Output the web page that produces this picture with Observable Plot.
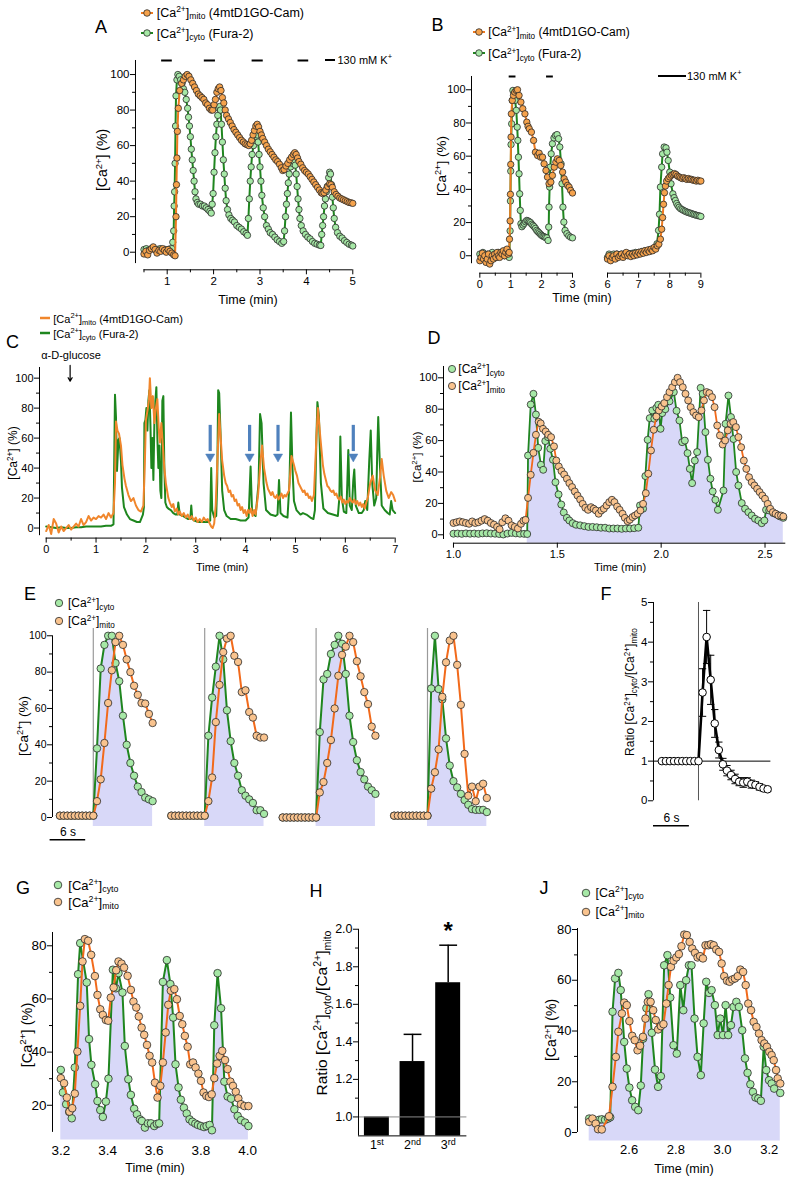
<!DOCTYPE html>
<html>
<head>
<meta charset="utf-8">
<script src="https://cdn.jsdelivr.net/npm/d3@7"></script>
<script src="https://cdn.jsdelivr.net/npm/@observablehq/plot@0.6"></script>
<style>
html,body{margin:0;padding:0;background:#fff;}
#fig{position:relative;width:793px;height:1182px;overflow:hidden;font-family:"Liberation Sans",Arial,Helvetica,sans-serif;color:#000;}
.t{position:absolute;white-space:nowrap;line-height:1;}
.t sup,.t sub{font-size:0.68em;line-height:0;}
.t sup{vertical-align:0.55em;}
.t sub{vertical-align:-0.32em;}
</style>
</head>
<body>
<div id="fig"></div>
<script>
// ================= DATA =================
// Panel A: [time (min), % ]
const aCyto = [[0.5,1.5],[0.55,2],[0.6,1.2],[0.65,1.8],[0.7,2.2],[0.75,1.2],[0.8,1.6],[0.85,2],[0.9,1.2],[0.95,1.6],[1,1.4],[1.05,1.8],[1.1,2],[1.12,5.6],[1.14,12],[1.15,26],[1.16,34],[1.17,50],[1.18,71],[1.19,88],[1.21,97],[1.23,100],[1.26,99],[1.29,97],[1.32,95],[1.35,92],[1.38,90],[1.41,86],[1.44,81],[1.46,76],[1.48,71],[1.5,65],[1.52,58],[1.54,52],[1.56,46],[1.58,40],[1.6,34],[1.62,30],[1.65,28],[1.68,27],[1.72,27],[1.76,26],[1.8,26],[1.84,25],[1.88,24],[1.92,23],[1.95,22],[1.97,27],[1.99,33],[2.01,45],[2.03,56],[2.05,65],[2.07,72],[2.09,77],[2.11,81],[2.13,82],[2.15,80],[2.17,72],[2.19,62],[2.21,52],[2.23,44],[2.25,36],[2.27,29],[2.3,24],[2.33,21],[2.37,19],[2.41,18],[2.45,17],[2.5,15],[2.55,14],[2.6,13],[2.65,11.5],[2.7,10.5],[2.73,9.5],[2.75,19],[2.77,30],[2.79,40],[2.81,48],[2.83,55],[2.86,60],[2.89,63],[2.92,65],[2.94,66],[2.96,62],[2.98,55],[3,48],[3.02,40],[3.04,32],[3.07,25],[3.1,20],[3.14,15],[3.18,13],[3.22,11],[3.27,10],[3.32,8.5],[3.37,7],[3.42,6],[3.47,5],[3.51,6],[3.53,12],[3.55,20],[3.57,27],[3.59,33],[3.61,39],[3.63,44],[3.66,48],[3.7,50],[3.73,51],[3.76,49],[3.78,44],[3.8,37],[3.82,30],[3.84,24],[3.86,19],[3.89,15],[3.93,12],[3.98,10],[4.03,8.5],[4.08,7.5],[4.13,6],[4.18,5],[4.23,4.5],[4.28,4],[4.31,3.8],[4.33,10],[4.35,15],[4.37,20],[4.39,26],[4.41,30],[4.43,34],[4.45,37],[4.48,42],[4.5,45],[4.52,44],[4.54,38],[4.56,31],[4.58,25],[4.6,19],[4.63,14],[4.67,11],[4.72,9],[4.77,8],[4.82,6.5],[4.87,5.5],[4.92,4.5],[4.97,4],[5,3.5]];
const aMito = [[0.5,-1],[0.54,0.5],[0.58,-1.5],[0.62,1],[0.66,2],[0.7,3],[0.74,1.5],[0.78,-0.5],[0.82,1],[0.86,0.5],[0.9,2],[0.94,1],[0.98,0],[1.02,1.5],[1.06,0.5],[1.1,-0.5],[1.14,-1.5],[1.17,-2],[1.19,20],[1.2,38],[1.21,53],[1.22,68],[1.24,81],[1.27,91],[1.31,95],[1.35,97],[1.39,99],[1.43,100],[1.47,99],[1.51,97],[1.55,95],[1.59,93],[1.63,91],[1.67,89],[1.71,88],[1.75,87],[1.79,86],[1.83,84],[1.87,83],[1.91,81],[1.95,80],[1.98,80],[2.01,83],[2.04,86],[2.07,90],[2.1,92],[2.13,93],[2.16,91],[2.19,87],[2.22,84],[2.25,80],[2.28,77],[2.32,75],[2.36,73],[2.4,71],[2.44,69],[2.48,67.5],[2.52,66],[2.56,64.5],[2.6,63],[2.64,62],[2.68,61],[2.72,60.5],[2.76,60],[2.79,61],[2.82,63],[2.85,66],[2.88,68.5],[2.91,71],[2.94,72],[2.97,70.5],[3,68],[3.03,66],[3.06,64],[3.1,62],[3.14,60],[3.18,58],[3.22,56.5],[3.26,55],[3.3,53.5],[3.34,52],[3.38,51],[3.42,49.5],[3.46,47.5],[3.49,46],[3.52,46.5],[3.56,48.5],[3.6,50],[3.64,52],[3.68,53.5],[3.72,55],[3.75,56],[3.78,55],[3.81,53],[3.84,51],[3.88,49.5],[3.92,47.5],[3.96,46],[4,45],[4.04,44],[4.08,42.5],[4.12,41],[4.16,39.5],[4.2,38],[4.24,36.5],[4.28,35],[4.32,33.5],[4.35,33],[4.38,33.5],[4.42,35],[4.46,37],[4.5,38.5],[4.53,38],[4.56,36.5],[4.6,34],[4.64,32.5],[4.68,31.5],[4.72,30.5],[4.76,30],[4.8,29.5],[4.84,29],[4.88,28.5],[4.92,28],[4.96,27.8],[5,27.5]];
const aK = [[0.88,1.11],[1.8,2.04],[2.83,3.07],[3.82,4.05]];
const aXTicks = [1,2,3,4,5], aXMinor = [0.5,1.5,2.5,3.5,4.5];
const pctTicks = [0,20,40,60,80,100], pctMinor = [10,30,50,70,90];

// Panel B
const bCytoL = [[0,1],[0.05,-1],[0.1,2],[0.15,0],[0.2,-2],[0.25,1],[0.3,-1],[0.35,0],[0.4,2],[0.45,0],[0.5,1],[0.55,-1],[0.6,2],[0.65,0],[0.7,1],[0.75,2],[0.8,0],[0.85,2],[0.9,1],[0.95,-1],[0.98,15],[0.99,33],[1,51],[1.01,67],[1.03,79.5],[1.05,93.6],[1.07,99.6],[1.11,97.6],[1.14,93.6],[1.18,87.6],[1.21,77.5],[1.23,69.5],[1.25,59.4],[1.27,49.4],[1.29,37.3],[1.31,27.3],[1.33,19.3],[1.36,17.5],[1.4,18.5],[1.44,19.5],[1.48,20.5],[1.52,21.3],[1.56,21],[1.6,20.5],[1.64,20],[1.68,19],[1.72,18.3],[1.76,17.5],[1.8,16.5],[1.84,15.3],[1.88,14.5],[1.92,13.8],[1.96,13],[2,12.3],[2.04,11.8],[2.08,11.5],[2.12,11],[2.17,10.8],[2.21,9.2],[2.23,17.3],[2.24,29.3],[2.26,41.4],[2.28,53.4],[2.31,61.4],[2.35,67.5],[2.4,71],[2.45,72.5],[2.5,73],[2.55,70.5],[2.59,65.5],[2.63,55.4],[2.66,43.4],[2.69,29.3],[2.72,20.3],[2.76,15.3],[2.82,13.3],[2.88,12],[2.94,11.2],[3,10.8]];
const bMitoL = [[0,-3],[0.04,-1],[0.08,1.5],[0.12,-2],[0.16,0],[0.2,-4],[0.24,-2],[0.28,1],[0.32,-5],[0.36,-3],[0.4,0],[0.44,-2],[0.48,1],[0.52,-1],[0.56,2],[0.6,0],[0.64,-1],[0.68,2],[0.72,1],[0.76,3],[0.8,0],[0.84,2],[0.88,4],[0.92,1],[0.95,2],[0.96,10],[0.98,21],[0.99,37],[1,55],[1.01,71.5],[1.02,85.5],[1.05,93.6],[1.09,96.6],[1.13,98.6],[1.18,99.6],[1.22,100],[1.27,96.6],[1.33,92.6],[1.39,88.6],[1.46,85.5],[1.52,80.5],[1.56,78],[1.6,76.5],[1.67,74.5],[1.74,69.5],[1.8,62.4],[1.87,60.4],[1.92,61.8],[1.97,59.4],[2.03,59.4],[2.08,55.4],[2.14,51.4],[2.19,47.4],[2.24,43.4],[2.3,44.4],[2.35,48.4],[2.41,53.4],[2.46,56.4],[2.51,58.4],[2.57,57.4],[2.62,54.4],[2.68,50.4],[2.73,46.4],[2.78,44.4],[2.84,42.4],[2.89,41.4],[2.94,39.4],[3,37.8]];
const bCytoR = [[6,-1],[6.05,1],[6.1,0],[6.15,-1],[6.2,1],[6.25,0],[6.3,1],[6.35,-0.5],[6.4,0.5],[6.45,1],[6.5,0],[6.55,1],[6.6,0.5],[6.65,1.5],[6.7,0.5],[6.75,1],[6.8,1.5],[6.85,1],[6.9,2],[6.95,1],[7,2],[7.05,1.5],[7.1,2.5],[7.15,2],[7.2,3],[7.25,2.5],[7.3,3],[7.35,3.5],[7.4,3],[7.45,4],[7.5,4.5],[7.55,5],[7.59,7.2],[7.64,15.3],[7.67,25],[7.7,41.4],[7.74,53.4],[7.77,61.4],[7.82,65.5],[7.88,65],[7.91,62.4],[7.95,57.4],[8,50.4],[8.04,43.4],[8.1,37.3],[8.14,35],[8.18,33.3],[8.22,31.5],[8.26,30.2],[8.3,29.2],[8.35,28.3],[8.4,27.8],[8.45,27.2],[8.5,26.8],[8.55,26.3],[8.6,26],[8.65,25.7],[8.7,25.4],[8.75,25],[8.8,24.8],[8.85,24.4],[8.9,24.2],[8.95,24],[9,23.7]];
const bMitoR = [[6,-2],[6.05,0],[6.1,-3],[6.15,-1],[6.2,0],[6.25,-2],[6.3,1],[6.35,-1],[6.4,0],[6.45,1],[6.5,-1],[6.55,0.5],[6.6,2],[6.65,0],[6.7,1],[6.75,-0.5],[6.8,1],[6.85,0],[6.9,1.5],[6.95,0.5],[7,2],[7.05,1],[7.1,2.5],[7.15,1.5],[7.2,3],[7.25,2],[7.3,3.5],[7.35,2.5],[7.4,4],[7.45,3],[7.5,5],[7.55,4],[7.6,6],[7.65,7],[7.7,10],[7.74,16],[7.77,23],[7.8,31],[7.83,38],[7.86,42],[7.9,45],[7.95,46.5],[8,47.5],[8.05,48.5],[8.1,49],[8.15,49.5],[8.2,49],[8.25,48],[8.3,47.5],[8.35,47],[8.4,46.5],[8.45,47],[8.5,46.5],[8.55,46],[8.6,46.5],[8.65,46],[8.7,46],[8.75,45.5],[8.8,45.5],[8.85,45],[8.9,45.5],[8.95,45],[9,45]];
const bK = [[0.95,1.17],[2.16,2.38]];
const bXTicksL = [0,1,2,3], bXMinorL = [0.5,1.5,2.5];
const bXTicksR = [6,7,8,9], bXMinorR = [6.5,7.5,8.5];

// Panel C
const cCyto = [[0,1],[0.1,0.5],[0.2,0],[0.3,0.5],[0.4,0],[0.5,0],[0.6,0.5],[0.7,0.5],[0.8,1],[0.9,1],[1,1],[1.1,1],[1.2,1.5],[1.3,1.5],[1.35,2.5],[1.38,89],[1.4,74],[1.42,38],[1.45,59],[1.47,60],[1.5,45],[1.52,27],[1.56,14],[1.62,9],[1.68,6],[1.75,5],[1.82,4],[1.88,4],[1.94,9],[1.96,14],[1.97,70],[1.99,72],[2.01,80],[2.03,65],[2.05,85],[2.07,92],[2.09,70],[2.11,40],[2.13,60],[2.15,32],[2.17,70],[2.19,85],[2.21,94],[2.23,60],[2.25,40],[2.27,55],[2.29,25],[2.31,20],[2.33,85],[2.35,88],[2.37,40],[2.39,17],[2.42,14],[2.45,13],[2.5,12],[2.55,10],[2.6,9],[2.63,9],[2.65,17],[2.68,9],[2.75,8],[2.8,7],[2.85,6],[2.89,6],[2.91,15],[2.93,6],[2.97,5],[3.05,4],[3.15,4],[3.25,4],[3.29,5],[3.31,40],[3.33,12],[3.37,7],[3.41,8],[3.43,30],[3.45,92],[3.47,90],[3.5,60],[3.53,25],[3.57,12],[3.62,8],[3.7,6],[3.8,6],[3.9,5],[4,5],[4.06,7],[4.1,41],[4.13,10],[4.2,8],[4.26,30],[4.29,76],[4.32,70],[4.36,30],[4.41,12],[4.5,9],[4.6,8],[4.64,9],[4.67,32],[4.7,10],[4.76,8],[4.84,7],[4.88,30],[4.91,77],[4.94,40],[4.97,18],[5.02,12],[5.1,9],[5.15,10],[5.22,9],[5.3,7],[5.36,6],[5.39,12],[5.42,60],[5.44,84],[5.47,75],[5.51,30],[5.56,13],[5.65,10],[5.75,9],[5.85,8],[5.88,20],[5.9,61],[5.93,20],[5.97,11],[6.02,10],[6.04,30],[6.06,52],[6.09,15],[6.13,12],[6.16,32],[6.18,39],[6.21,15],[6.27,10],[6.33,10],[6.37,12],[6.4,18],[6.44,12],[6.48,45],[6.51,65],[6.54,30],[6.58,15],[6.62,20],[6.64,50],[6.66,74],[6.69,45],[6.73,15],[6.79,12],[6.85,10],[6.89,9],[6.92,18],[6.95,12],[7,10]];
const cMito = [[0,-2],[0.05,2],[0.1,-4],[0.15,6],[0.2,3],[0.25,-3],[0.3,1],[0.35,-2],[0.4,0],[0.45,2],[0.5,-1],[0.55,1],[0.6,3],[0.65,1],[0.7,6],[0.75,2],[0.8,4],[0.85,8],[0.9,5],[0.95,7],[1,6],[1.05,8],[1.1,7],[1.15,9],[1.2,6],[1.25,10],[1.3,7],[1.35,10],[1.38,30],[1.4,71],[1.43,65],[1.46,63],[1.5,55],[1.53,42],[1.57,33],[1.6,28],[1.65,22],[1.7,18],[1.75,20],[1.8,15],[1.85,12],[1.9,11],[1.95,15],[1.98,45],[2,72],[2.03,78],[2.06,85],[2.08,100],[2.11,80],[2.14,88],[2.17,70],[2.2,80],[2.23,86],[2.26,65],[2.28,57],[2.31,70],[2.34,55],[2.37,40],[2.4,30],[2.45,20],[2.48,17],[2.52,14],[2.55,16],[2.58,11],[2.62,13],[2.65,9],[2.68,11],[2.72,8],[2.76,10],[2.8,7],[2.84,9],[2.88,6],[2.92,8],[2.96,5],[3,7],[3.04,4],[3.08,6],[3.12,4],[3.16,7],[3.2,5],[3.24,6],[3.28,3],[3.31,1],[3.34,0],[3.37,3],[3.4,15],[3.44,50],[3.47,76],[3.5,60],[3.53,45],[3.57,35],[3.6,30],[3.63,28],[3.66,24],[3.69,25],[3.72,21],[3.75,22],[3.78,18],[3.81,19],[3.84,15],[3.87,16],[3.9,12],[3.93,14],[3.96,10],[3.99,12],[4.02,8],[4.05,12],[4.08,10],[4.11,13],[4.14,8],[4.17,12],[4.2,9],[4.25,22],[4.3,45],[4.33,55],[4.37,40],[4.42,30],[4.45,26],[4.48,24],[4.51,22],[4.54,24],[4.57,21],[4.6,20],[4.63,22],[4.66,19],[4.69,21],[4.72,23],[4.75,20],[4.78,22],[4.81,21],[4.84,23],[4.87,25],[4.92,48],[4.97,42],[5,38],[5.03,35],[5.06,30],[5.09,28],[5.12,26],[5.15,24],[5.18,25],[5.21,22],[5.24,23],[5.27,20],[5.3,21],[5.33,18],[5.37,22],[5.42,60],[5.45,80],[5.5,60],[5.55,42],[5.58,36],[5.61,32],[5.64,28],[5.67,27],[5.7,25],[5.73,24],[5.76,25],[5.79,22],[5.82,23],[5.85,20],[5.88,19],[5.91,21],[5.94,17],[5.97,19],[6,16],[6.03,18],[6.06,17],[6.09,20],[6.12,18],[6.15,17],[6.18,19],[6.21,16],[6.24,18],[6.27,15],[6.3,17],[6.33,14],[6.36,16],[6.39,13],[6.42,17],[6.45,20],[6.5,30],[6.55,35],[6.6,25],[6.65,22],[6.7,35],[6.73,46],[6.77,35],[6.82,25],[6.87,20],[6.92,24],[6.96,22],[7,18]];
const cArrowT = [3.29, 4.08, 4.65, 6.16];   // blue arrows (min)
const cGlucoseT = 0.48;                      // α-D-glucose addition (min)
const cXTicks = [0,1,2,3,4,5,6,7], cXMinor = [0.5,1.5,2.5,3.5,4.5,5.5,6.5];

// Panel D
const dCyto = [[1,0.7],[1.02,0.8],[1.04,0.6],[1.06,0.9],[1.08,0.7],[1.1,0.8],[1.12,0.6],[1.14,0.9],[1.16,1],[1.18,0.8],[1.2,0.7],[1.22,0.5],[1.24,0.2],[1.26,0.8],[1.28,1.2],[1.3,0.9],[1.32,0.7],[1.34,0.6],[1.355,0.5],[1.359,50.5],[1.372,83],[1.385,89.8],[1.397,76.6],[1.408,55.4],[1.421,44.6],[1.432,41.4],[1.442,59.7],[1.455,62.2],[1.466,54.8],[1.479,47.8],[1.491,33.5],[1.506,25.7],[1.519,19.3],[1.531,14.2],[1.546,10.8],[1.558,9.1],[1.574,7.4],[1.59,6.4],[1.61,6],[1.63,5.5],[1.65,5],[1.67,5],[1.69,4.8],[1.71,4.5],[1.73,4.5],[1.75,4],[1.77,4],[1.79,4],[1.81,3.8],[1.83,4],[1.85,4],[1.87,4.2],[1.89,4.5],[1.898,18.7],[1.913,16.6],[1.924,37.4],[1.935,60.5],[1.945,74.3],[1.957,79.2],[1.967,73.9],[1.977,80.9],[1.986,82.8],[1.997,67.5],[2.005,77.5],[2.02,80],[2.04,85],[2.061,90.9],[2.074,79],[2.088,72.8],[2.101,59],[2.114,60],[2.127,52],[2.138,42],[2.149,32.9],[2.162,47.3],[2.173,52.7],[2.19,93.6],[2.2,89.8],[2.213,65.4],[2.225,47.8],[2.237,35.7],[2.248,27.6],[2.261,22.3],[2.273,15.9],[2.3,28.2],[2.31,70.7],[2.324,88.7],[2.336,75],[2.348,61],[2.361,40],[2.372,31.4],[2.388,20.2],[2.404,16.6],[2.42,14.4],[2.436,12.3],[2.452,10.2],[2.468,9.1],[2.484,7.4],[2.497,9.1],[2.505,15.9],[2.52,15.5],[2.54,13.8],[2.556,13],[2.572,11.7],[2.588,10.8]];
const dMito = [[1,7.5],[1.015,8],[1.03,8.5],[1.045,8],[1.06,7.5],[1.075,7],[1.09,8.5],[1.105,7.5],[1.12,8],[1.135,9],[1.15,10],[1.165,9],[1.18,7.5],[1.195,6.5],[1.21,5],[1.222,3.5],[1.235,8],[1.25,10.5],[1.265,9],[1.28,6],[1.295,5],[1.31,4],[1.325,7],[1.337,9],[1.347,9.5],[1.359,23.5],[1.372,38.2],[1.385,52.2],[1.397,63.7],[1.41,72],[1.42,71],[1.431,67.5],[1.444,65.8],[1.456,63.7],[1.47,62.2],[1.484,56.3],[1.495,47.3],[1.507,43.5],[1.52,40.6],[1.533,38.4],[1.546,35.7],[1.558,32.9],[1.571,30.4],[1.584,27.6],[1.597,25],[1.61,22.5],[1.622,19.7],[1.635,17.2],[1.648,15.9],[1.662,17.6],[1.675,16.6],[1.686,15.5],[1.699,13.4],[1.712,15.5],[1.724,16.6],[1.737,18.7],[1.75,20.8],[1.763,22.3],[1.775,20.8],[1.788,18],[1.8,15.9],[1.814,13.4],[1.825,10.8],[1.838,8.7],[1.849,9.6],[1.862,11.3],[1.874,12.3],[1.887,13.4],[1.9,15.5],[1.913,19.7],[1.926,26.5],[1.938,38.9],[1.951,53.7],[1.964,66.9],[1.977,75.4],[1.989,79.2],[2.002,81.7],[2.015,83.9],[2.028,87.7],[2.04,90.9],[2.053,94],[2.066,97.2],[2.079,100],[2.091,97.2],[2.104,94],[2.117,89.8],[2.13,85.6],[2.142,81.3],[2.155,78.1],[2.168,76],[2.181,74.9],[2.194,79.2],[2.206,85.6],[2.219,90.9],[2.232,90.2],[2.245,87.7],[2.257,81.3],[2.27,69.6],[2.283,63.3],[2.296,57.5],[2.308,60.1],[2.321,66.5],[2.334,70.7],[2.347,71.8],[2.36,68.6],[2.372,62.2],[2.385,55.8],[2.398,47.3],[2.41,42],[2.423,36.7],[2.436,33.5],[2.449,31.4],[2.462,29.3],[2.474,27.2],[2.487,25],[2.5,22.9],[2.513,19.7],[2.525,16.6],[2.538,14.4],[2.551,13.4],[2.564,12.3],[2.577,12.3],[2.588,11.7]];
const dFillFrom = 1.355;
const dXTicks = [1,1.5,2,2.5];

// Panel E: four events, samples -9..16 around onset
const ePre = 9;
const eCyto1 = [1,1,1,1,1,1,1,1,1,1,38,82,95,100,100,85,75,56,40,30,23,17,14,11,10,9];
const eMito1 = [1,1,1,1,1,1,1,1,1,1,9,21,41,63,81,96.5,100,95,87,80,72.5,67.5,63,62.7,57,52];
const eCyto2 = [1,1,1,1,1,1,1,1,1,1,45,66,83,100,87,59,42,30,23,15,12,10,8,4,4,2];
const eMito2 = [1,1,1,1,1,1,1,1,1,1,9,22,52.5,73,91,98.5,100,89,85.6,69,70,58,55,45,44,44];
const eCyto3 = [0,0,0,0,0,0,0,0,0,0,47,76,79,90,95,100,95.6,79,56,41.5,31.5,25,21,17,15,13];
const eMito3 = [0,0,0,0,0,0,0,0,0,0,13.8,19.5,30,42.6,60,78,89.5,94,100,96.5,86,77.7,69,62.4,50,45];
const eCyto4 = [1,1,1,1,1,1,1,1,1,1,71,100,70.7,65,43.5,28.6,20,16.6,13,9.6,7,4.6,4.2,4.2,4.2,3];
const eMito4 = [1,1,1,1,1,1,1,1,1,1,15.9,24.9,37.5,66.4,85.4,97.4,100,84,62,35,12,17,8.9,17,18.6,10.7];
const eEvents = [1,2,3,4];
const eDt = 0.625;   // s per sample

// Panel F: mean ratio and SEM, samples -9..17
const fPre = 9;
const fRatio = [1,1,1,1,1,1,1,1,1,1,2.73,4.13,3.05,1.95,1.28,0.92,0.76,0.65,0.55,0.48,0.46,0.48,0.42,0.4,0.35,0.31,0.29];
const fSem = [0,0,0,0,0,0,0,0,0,0,0.6,0.67,0.62,0.35,0.2,0.15,0.13,0.12,0.12,0.1,0.12,0.1,0.1,0.08,0.08,0.06,0.05];
const fDt = 0.68;
const fYTicks = [0,1,2,3,4,5], fYMinor = [0.5,1.5,2.5,3.5,4.5];

// Panel G
const gCyto = [[3.2,33.3],[3.209,24.8],[3.223,20.4],[3.236,17.5],[3.247,15.1],[3.26,34.2],[3.274,69.3],[3.283,81],[3.311,66.2],[3.321,44.9],[3.331,35.2],[3.347,27.9],[3.357,21.6],[3.369,18.2],[3.38,15.6],[3.393,21.4],[3.404,30],[3.423,71],[3.436,64],[3.447,69.7],[3.464,62.4],[3.474,42.3],[3.489,29.8],[3.5,23.9],[3.514,18.7],[3.526,16.6],[3.539,14.7],[3.547,14.1],[3.56,11.6],[3.573,13.2],[3.586,13.2],[3.6,12.2],[3.611,13],[3.621,13.2],[3.637,66.4],[3.654,74.6],[3.669,65.6],[3.681,53],[3.691,35.4],[3.704,26.7],[3.714,22.1],[3.727,19.1],[3.739,16.9],[3.751,14.7],[3.763,13.8],[3.776,13.1],[3.787,12.6],[3.8,12.2],[3.813,11.8],[3.824,12.2],[3.837,12.6],[3.847,10.6],[3.857,50.1],[3.871,69.7],[3.886,56.5],[3.9,28.9],[3.914,23.3],[3.929,22.5],[3.943,18.5],[3.957,16],[3.971,14.4],[3.989,13.5],[4.003,12.2]];
const gMito = [[3.2,30.2],[3.214,28.3],[3.226,22.9],[3.237,17.6],[3.249,18.9],[3.26,24.4],[3.271,40.2],[3.283,57.4],[3.293,74.1],[3.303,82.5],[3.317,81.9],[3.33,76.6],[3.346,68.6],[3.357,61.5],[3.369,56.1],[3.38,54],[3.393,52.1],[3.403,51.8],[3.414,60.5],[3.426,64.3],[3.437,70.8],[3.447,74.1],[3.46,73.3],[3.471,71.8],[3.486,68.7],[3.5,63.4],[3.511,59],[3.523,56.8],[3.534,53.4],[3.546,49.2],[3.557,46.5],[3.569,42.7],[3.58,38.6],[3.591,36.1],[3.603,28.5],[3.614,22.9],[3.626,27.3],[3.637,36.1],[3.649,47.4],[3.66,57.8],[3.671,63.1],[3.686,63.7],[3.697,59.9],[3.709,53.6],[3.72,50.5],[3.731,46.1],[3.743,42],[3.754,35.4],[3.766,36.1],[3.777,34.2],[3.789,31.9],[3.8,29.2],[3.811,24.8],[3.823,23.5],[3.834,23.1],[3.846,24.1],[3.857,30.2],[3.869,35.7],[3.88,38.6],[3.891,40.5],[3.903,37],[3.914,33.6],[3.926,28.9],[3.937,27.3],[3.949,25.1],[3.96,22.6],[3.971,20.4],[3.986,19.7],[4.003,19.7]];
const gXTicks = [3.2,3.4,3.6,3.8,4.0], gYTicks = [20,40,60,80], gYMinor = [30,50,70];

// Panel H
const hLabels = ["1st","2nd","3rd"];
const hMean = [1.0, 1.295, 1.715];
const hSem = [0, 0.145, 0.2];
const hSig = ["", "", "*"];
const hYTicks = [1.0,1.2,1.4,1.6,1.8,2.0], hYMinor = [1.1,1.3,1.5,1.7,1.9];

// Panel J
const jCyto = [[2.429,5.5],[2.443,5],[2.457,4.5],[2.471,5],[2.483,5.2],[2.497,5],[2.51,5.5],[2.519,6],[2.529,47.6],[2.54,60.7],[2.554,62.9],[2.564,56.1],[2.579,35.7],[2.59,25.2],[2.601,17.7],[2.613,12.7],[2.626,10.1],[2.639,8.8],[2.65,18.5],[2.66,37],[2.674,49],[2.683,54.5],[2.697,39.3],[2.711,24.8],[2.724,18],[2.736,22.2],[2.75,65.9],[2.764,69.9],[2.776,53.2],[2.79,34.4],[2.804,31.1],[2.819,58.1],[2.832,48.2],[2.844,60],[2.856,65.9],[2.867,65.9],[2.88,44.9],[2.893,29.8],[2.907,22.6],[2.919,43],[2.93,59.4],[2.942,55],[2.953,56.1],[2.967,50.2],[2.979,38.4],[2.99,44.9],[3.002,38.4],[3.013,50.2],[3.024,38.4],[3.036,42.3],[3.047,49.5],[3.059,51.5],[3.07,49.5],[3.084,40.3],[3.096,29.2],[3.107,23.5],[3.119,19],[3.13,16],[3.141,13.8],[3.153,13.4],[3.164,12.5],[3.176,33.8],[3.187,24.6],[3.199,20.6],[3.21,19.3],[3.221,17.3],[3.247,15.6]];
const jMito = [[2.429,4.2],[2.443,5.5],[2.457,3.5],[2.467,1.3],[2.483,1.2],[2.514,6.4],[2.529,18],[2.543,29.8],[2.554,39.7],[2.569,46.9],[2.579,51.2],[2.59,50.2],[2.601,43.9],[2.613,38.1],[2.624,36.4],[2.636,32.4],[2.647,34.2],[2.659,37.7],[2.67,44.9],[2.68,51.5],[2.692,51.5],[2.703,48.2],[2.714,44.3],[2.724,40.6],[2.736,41.9],[2.747,42.7],[2.759,50.8],[2.769,58.1],[2.779,65.3],[2.79,67.7],[2.802,69],[2.813,70.3],[2.824,73.4],[2.836,78],[2.847,77.8],[2.859,75.1],[2.87,72.5],[2.882,70.8],[2.893,69],[2.904,69.5],[2.916,68.6],[2.927,73.8],[2.939,73.8],[2.95,74.2],[2.962,73.8],[2.973,72.1],[2.985,71.2],[2.996,66.6],[3.007,61.6],[3.019,59.8],[3.03,59.4],[3.042,60.3],[3.053,60.7],[3.065,61.6],[3.076,64.2],[3.088,63.3],[3.099,58.1],[3.11,50.8],[3.122,48.2],[3.133,43.6],[3.145,41.6],[3.156,39],[3.167,36.4],[3.179,35.1],[3.19,33.8],[3.2,31.8],[3.21,30.5],[3.219,28.5],[3.229,24.6],[3.236,21.3],[3.247,19.3]];
const jXTicks = [2.6,2.8,3.0,3.2], jYTicks = [0,20,40,60,80], jYMinor = [10,30,50,70];

// ================= STYLE =================
const FONT = '"Liberation Sans", Arial, Helvetica, sans-serif';
const GREEN_LINE = "#1f861f", GREEN_FILL = "#a6e8a6";
const ORANGE_LINE = "#f26a1b", ORANGE_FILL = "#f9c38e";
const AB_ORANGE_FILL = "#f5a24c", AB_ORANGE_LINE = "#ee7a20";
const OUTLINE = "#2a2a2a";
const LAVENDER = "#d8d8f8";
const C_ORANGE = "#f0862c", C_GREEN = "#1e861e";
const ARROW_BLUE = "#4f81bd";
const fig = document.getElementById("fig");
const f1 = d3.format(".1f");
const fg = d3.format("~g");
const CA = "[Ca<sup>2+</sup>]";
const CYTO = CA + "<sub>cyto</sub>", MITO = CA + "<sub>mito</sub>";
const X = d => d[0], Y = d => d[1];

// ================= HELPERS =================
function txt(html, x, y, {size = 12, anchor = "start", rotate = false, weight = "normal"} = {}) {
  const d = document.createElement("div");
  d.className = "t"; d.innerHTML = html;
  d.style.fontSize = size + "px"; d.style.fontWeight = weight;
  d.style.left = x + "px"; d.style.top = y + "px";
  const tx = anchor === "middle" ? "-50%" : anchor === "end" ? "-100%" : "0";
  d.style.transform = rotate ? "translate(-50%,-50%) rotate(-90deg)" : `translate(${tx},-50%)`;
  fig.appendChild(d);
}
function swatch(x, y, {dot, line, r = 3.7, lw = 2, len = 12}) {
  const s = `<svg width="${len + 4}" height="12" style="position:absolute;left:${x - len / 2 - 2}px;top:${y - 6}px;overflow:visible">` +
    (line ? `<line x1="2" x2="${len + 2}" y1="6" y2="6" stroke="${line}" stroke-width="${lw}"/>` : "") +
    (dot ? `<circle cx="${len / 2 + 2}" cy="6" r="${r}" fill="${dot}" stroke="${OUTLINE}" stroke-width="0.8"/>` : "") + `</svg>`;
  fig.insertAdjacentHTML("beforeend", s);
}
function hbar(x1, x2, y) {
  const d = document.createElement("div");
  d.style.cssText = `position:absolute;left:${x1}px;top:${y - 1}px;width:${x2 - x1}px;height:2px;background:#000`;
  fig.appendChild(d);
}
function mount(opts, fr, pad, fs) {
  const svg = Plot.plot({
    ...opts,
    width: fr.r - fr.l + pad.l + pad.r,
    height: fr.b - fr.t + pad.t + pad.b,
    marginLeft: pad.l, marginRight: pad.r, marginTop: pad.t, marginBottom: pad.b,
    style: {fontFamily: FONT, fontSize: fs + "px", color: "#000", background: "transparent", overflow: "visible"}
  });
  svg.style.position = "absolute";
  svg.style.left = (fr.l - pad.l) + "px";
  svg.style.top = (fr.t - pad.t) + "px";
  fig.appendChild(svg);
  return svg;
}
function yAxis({major, minor = [], lo, hi, at, fmt = fg, pad = 2, line = true}) {
  const m = [];
  if (line) m.push(Plot.ruleX([at], {y1: lo, y2: hi, stroke: "#000", strokeWidth: 1}));
  m.push(Plot.axisY({ticks: major, tickSize: 5, tickPadding: pad, tickFormat: fmt, label: null}));
  if (minor.length) m.push(Plot.axisY({ticks: minor, tickSize: 3, tickFormat: () => "", label: null}));
  return m;
}
function xAxis({major, minor = [], lo, hi, at, fmt = fg, pad = 2, size = 5, line = true}) {
  const m = [];
  if (line) m.push(Plot.ruleY([at], {x1: lo, x2: hi, stroke: "#000", strokeWidth: 1}));
  m.push(Plot.axisX({ticks: major, tickSize: size, tickPadding: pad, tickFormat: fmt, label: null}));
  if (minor.length) m.push(Plot.axisX({ticks: minor, tickSize: 3, tickFormat: () => "", label: null}));
  return m;
}
function series(data, {line, fill, r = 3.6, lw = 2, x = X, y = Y, extra = {}}) {
  return [
    Plot.line(data, {x, y, stroke: line, strokeWidth: lw, ...extra}),
    Plot.dot(data, {x, y, r, fill, stroke: OUTLINE, strokeWidth: 0.8, ...extra})
  ];
}

// ================= PANEL A =================
{
  const xd = [0.317, 5], yd = [-9.9, 107.9];
  mount({
    x: {domain: xd}, y: {domain: yd},
    marks: [
      ...yAxis({major: pctTicks, minor: pctMinor, lo: -6.4, hi: yd[1], at: xd[0], pad: 1}),
      ...xAxis({major: aXTicks, minor: aXMinor, lo: 0.5, hi: 5, at: yd[0]}),
      Plot.ruleY(aK, {x1: X, x2: Y, y: yd[1], stroke: "#000", strokeWidth: 2}),
      ...series(aCyto, {line: GREEN_LINE, fill: GREEN_FILL, r: 3.2, lw: 2}),
      ...series(aMito, {line: AB_ORANGE_LINE, fill: AB_ORANGE_FILL, r: 3.2, lw: 2})
    ]
  }, {l: 135, r: 352.3, t: 60, b: 269.3}, {l: 40, r: 10, t: 10, b: 25}, 11.5);
  txt("A", 101, 27, {size: 18, anchor: "middle"});
  swatch(146.7, 12.7, {dot: AB_ORANGE_FILL, line: AB_ORANGE_LINE, r: 3.3});
  txt(MITO + " (4mtD1GO-Cam)", 156.7, 13, {size: 12.5});
  swatch(146.7, 33.3, {dot: GREEN_FILL, line: GREEN_LINE, r: 3.3});
  txt(CYTO + " (Fura-2)", 156.7, 33.5, {size: 12.5});
  hbar(325, 335, 60);
  txt("130 mM K<sup>+</sup>", 337.5, 60, {size: 11});
  txt(CA + " (%)", 101.7, 160, {size: 14, rotate: true});
  txt("Time (min)", 248, 300, {size: 12.5, anchor: "middle"});
}

// ================= PANEL B =================
{
  const yd = [-10.5, 108];
  const xdL = [-0.27, 3];
  mount({
    x: {domain: xdL}, y: {domain: yd},
    marks: [
      ...yAxis({major: pctTicks, minor: pctMinor, lo: -4.8, hi: yd[1], at: xdL[0], pad: 1}),
      ...xAxis({major: bXTicksL, minor: bXMinorL, lo: 0, hi: 3, at: yd[0]}),
      Plot.ruleY(bK, {x1: X, x2: Y, y: yd[1], stroke: "#000", strokeWidth: 2}),
      ...series(bCytoL, {line: GREEN_LINE, fill: GREEN_FILL, r: 3.2}),
      ...series(bMitoL, {line: AB_ORANGE_LINE, fill: AB_ORANGE_FILL, r: 3.2})
    ]
  }, {l: 470.7, r: 571.7, t: 76, b: 272.7}, {l: 31, r: 4, t: 10, b: 25}, 11);
  mount({
    x: {domain: [6, 9]}, y: {domain: yd, axis: null},
    marks: [
      ...xAxis({major: bXTicksR, minor: bXMinorR, lo: 6, hi: 9, at: yd[0]}),
      ...series(bCytoR, {line: GREEN_LINE, fill: GREEN_FILL, r: 3.2}),
      ...series(bMitoR, {line: AB_ORANGE_LINE, fill: AB_ORANGE_FILL, r: 3.2})
    ]
  }, {l: 607.3, r: 700.7, t: 76, b: 272.7}, {l: 6, r: 8, t: 10, b: 25}, 11);
  txt("B", 437.5, 25, {size: 18, anchor: "middle"});
  swatch(479.3, 31.7, {dot: AB_ORANGE_FILL, line: AB_ORANGE_LINE, r: 3.3});
  txt(MITO + " (4mtD1GO-Cam)", 488.3, 32, {size: 12});
  swatch(479.3, 53.3, {dot: GREEN_FILL, line: GREEN_LINE, r: 3.3});
  txt(CYTO + " (Fura-2)", 488.3, 53.5, {size: 12});
  hbar(658.3, 686, 76);
  txt("130 mM K<sup>+</sup>", 687, 76, {size: 11});
  txt(CA + " (%)", 441.7, 166, {size: 13.5, rotate: true});
  txt("Time (min)", 582, 298, {size: 12.5, anchor: "middle"});
}

// ================= PANEL C =================
{
  const xd = [-0.134, 7], yd = [-6.7, 107.1];
  mount({
    x: {domain: xd}, y: {domain: yd},
    marks: [
      ...yAxis({major: pctTicks, minor: pctMinor, lo: -5.1, hi: yd[1], at: xd[0], pad: 1}),
      ...xAxis({major: cXTicks, minor: cXMinor, lo: 0, hi: 7, at: yd[0]}),
      Plot.line(cCyto, {x: X, y: Y, stroke: C_GREEN, strokeWidth: 2}),
      Plot.line(cMito, {x: X, y: Y, stroke: C_ORANGE, strokeWidth: 2}),
      Plot.ruleX(cArrowT, {y1: 51, y2: 68.5, stroke: ARROW_BLUE, strokeWidth: 3.2}),
      Plot.dot(cArrowT, {x: d => d, y: 47.6, symbol: "triangle", rotate: 180, r: 3.4, fill: ARROW_BLUE, stroke: ARROW_BLUE, strokeWidth: 0.5}),
      Plot.arrow([cGlucoseT], {x1: d => d, x2: d => d, y1: 108.5, y2: 98, stroke: "#000", strokeWidth: 1.2, headLength: 5})
    ]
  }, {l: 39.3, r: 395, t: 366.7, b: 537.3}, {l: 30, r: 6, t: 10, b: 25}, 11);
  txt("C", 12.5, 342, {size: 18, anchor: "middle"});
  swatch(45, 318.3, {line: C_ORANGE, lw: 2.5, len: 10});
  txt(MITO + " (4mtD1GO-Cam)", 53.3, 318.5, {size: 11});
  swatch(45, 333.3, {line: C_GREEN, lw: 2.5, len: 10});
  txt(CYTO + " (Fura-2)", 53.3, 333.5, {size: 11});
  txt("α-D-glucose", 71, 355, {size: 11, anchor: "middle"});
  txt(CA + " (%)", 13.3, 453, {size: 12, rotate: true});
  txt("Time (min)", 222, 567, {size: 11, anchor: "middle"});
}

// ================= PANEL D =================
{
  const xd = [0.952, 2.6], yd = [-5.35, 107.2];
  mount({
    x: {domain: xd}, y: {domain: yd},
    marks: [
      Plot.areaY(dCyto.filter(d => d[0] >= dFillFrom), {x: X, y1: yd[0], y2: Y, fill: LAVENDER}),
      ...yAxis({major: pctTicks, minor: pctMinor, lo: -3, hi: yd[1], at: xd[0], pad: 1}),
      ...xAxis({major: dXTicks, lo: 1, hi: 2.6, at: yd[0], fmt: f1}),
      ...series(dCyto, {line: GREEN_LINE, fill: GREEN_FILL, r: 3.5, lw: 1.8}),
      ...series(dMito, {line: ORANGE_LINE, fill: ORANGE_FILL, r: 3.5, lw: 1.8})
    ]
  }, {l: 443.3, r: 785.6, t: 366, b: 542.7}, {l: 34, r: 6, t: 10, b: 25}, 11);
  txt("D", 434, 338, {size: 18, anchor: "middle"});
  swatch(451.7, 369, {dot: GREEN_FILL, r: 3.6});
  txt(CYTO, 458.3, 369, {size: 12});
  swatch(451.7, 385.5, {dot: ORANGE_FILL, r: 3.6});
  txt(MITO, 458.3, 385.5, {size: 12});
  txt(CA + " (%)", 418.3, 456.7, {size: 11.5, rotate: true});
  txt("Time (min)", 620, 566.7, {size: 11, anchor: "middle"});
}

// ================= PANEL E =================
{
  const cy = [eCyto1, eCyto2, eCyto3, eCyto4], mi = [eMito1, eMito2, eMito3, eMito4];
  const rows = [];
  cy.forEach((c, k) => c.forEach((v, j) => rows.push({ev: eEvents[k], i: j - ePre, c: v, m: mi[k][j]})));
  const xd = [-11, 17.5], yd = [-5, 104];
  const barY = -12.3, barX1 = -11.65, barX2 = barX1 + 6 / eDt;
  const first = [eEvents[0]];
  mount({
    x: {domain: xd, axis: null}, y: {domain: yd},
    fx: {domain: eEvents, paddingInner: 0.0513, paddingOuter: 0, axis: null, round: false},
    marks: [
      Plot.areaY(rows.filter(d => d.i >= 0), {fx: "ev", x: "i", y1: yd[0], y2: "c", fill: LAVENDER}),
      Plot.ruleX(eEvents, {fx: d => d, x: 0, y1: 0, y2: 104, stroke: "#9a9a9a", strokeWidth: 1.2}),
      Plot.ruleX(first, {fx: d => d, x: xd[0], y1: 0, y2: 100, stroke: "#000"}),
      Plot.axisY({ticks: pctTicks, tickSize: 5, tickPadding: 1, tickFormat: fg, label: null}),
      Plot.axisY({ticks: pctMinor, tickSize: 3, tickFormat: () => "", label: null}),
      Plot.line(rows, {fx: "ev", x: "i", y: "c", stroke: GREEN_LINE, strokeWidth: 2}),
      Plot.dot(rows, {fx: "ev", x: "i", y: "c", r: 3.7, fill: GREEN_FILL, stroke: OUTLINE, strokeWidth: 0.8}),
      Plot.line(rows, {fx: "ev", x: "i", y: "m", stroke: ORANGE_LINE, strokeWidth: 2}),
      Plot.dot(rows, {fx: "ev", x: "i", y: "m", r: 3.7, fill: ORANGE_FILL, stroke: OUTLINE, strokeWidth: 0.8}),
      Plot.ruleY(first, {fx: d => d, y: barY, x1: barX1, x2: barX2, stroke: "#000", strokeWidth: 1.5}),
      Plot.text(first, {fx: d => d, x: (barX1 + barX2) / 2, y: barY, dy: -8, text: () => "6 s", fontSize: 12})
    ]
  }, {l: 51.7, r: 491.6, t: 627.7, b: 825.8}, {l: 42, r: 6, t: 10, b: 30}, 10.5);
  txt("E", 30, 594, {size: 18, anchor: "middle"});
  swatch(58.5, 603, {dot: GREEN_FILL, r: 3.7});
  txt(CYTO, 68, 603, {size: 12});
  swatch(58.5, 621, {dot: ORANGE_FILL, r: 3.7});
  txt(MITO, 68, 621, {size: 12});
  txt(CA + " (%)", 24, 726, {size: 13.5, rotate: true});
}

// ================= PANEL F =================
{
  const rows = fRatio.map((v, j) => ({i: j - fPre, v, s: fSem[j]}));
  const eb = rows.filter(d => d.s > 0);
  const xd = [-11.06, 17.8], yd = [0, 5];
  const barY = -0.63, barX1 = xd[0], barX2 = xd[0] + 6 / fDt;
  mount({
    x: {domain: xd, axis: null}, y: {domain: yd},
    marks: [
      Plot.ruleY([1], {stroke: "#000", strokeWidth: 1}),
      Plot.ruleX([0], {y1: 0, y2: 5, stroke: "#555", strokeWidth: 1}),
      ...yAxis({major: fYTicks, minor: fYMinor, lo: 0, hi: 5, at: xd[0], pad: 1}),
      Plot.line(rows, {x: "i", y: "v", stroke: "#000", strokeWidth: 2.6}),
      Plot.ruleX(eb, {x: "i", y1: d => d.v - d.s, y2: d => d.v + d.s, stroke: "#000", strokeWidth: 1}),
      Plot.link(eb, {x1: d => d.i - 0.9, x2: d => d.i + 0.9, y1: d => d.v + d.s, y2: d => d.v + d.s, stroke: "#000", strokeWidth: 1}),
      Plot.link(eb, {x1: d => d.i - 0.9, x2: d => d.i + 0.9, y1: d => d.v - d.s, y2: d => d.v - d.s, stroke: "#000", strokeWidth: 1}),
      Plot.dot(rows, {x: "i", y: "v", r: 3.8, fill: "#fff", stroke: "#000", strokeWidth: 1}),
      Plot.ruleY([barY], {x1: barX1, x2: barX2, stroke: "#000", strokeWidth: 1.5}),
      Plot.text(["6 s"], {x: (barX1 + barX2) / 2, y: barY, dy: -8, text: d => d, fontSize: 12})
    ]
  }, {l: 653.3, r: 770.7, t: 601.7, b: 800}, {l: 53, r: 15, t: 10, b: 35}, 11.5);
  txt("F", 606, 594, {size: 18, anchor: "middle"});
  txt("Ratio " + CYTO + "/" + MITO, 630, 692, {size: 12, rotate: true});
}

// ================= PANEL G =================
{
  const xd = [3.1645, 4.009], yd = [6.9, 85];
  mount({
    x: {domain: xd}, y: {domain: yd},
    marks: [
      Plot.areaY(gCyto, {x: X, y1: yd[0], y2: Y, fill: LAVENDER}),
      ...yAxis({major: gYTicks, minor: gYMinor, lo: 9.8, hi: yd[1], at: xd[0], pad: 1}),
      Plot.axisX({ticks: gXTicks, tickSize: 0, tickPadding: 5, tickFormat: f1, label: null}),
      ...series(gCyto, {line: GREEN_LINE, fill: GREEN_FILL, r: 3.8}),
      ...series(gMito, {line: ORANGE_LINE, fill: ORANGE_FILL, r: 3.8})
    ]
  }, {l: 51.7, r: 249, t: 931.7, b: 1139.3}, {l: 42, r: 10, t: 10, b: 25}, 13.5);
  txt("G", 23, 888, {size: 18, anchor: "middle"});
  swatch(58.3, 885, {dot: GREEN_FILL, r: 3.8});
  txt(CYTO, 68.3, 885, {size: 13});
  swatch(58.3, 901.7, {dot: ORANGE_FILL, r: 3.8});
  txt(MITO, 68.3, 901.7, {size: 13});
  txt(CA + " (%)", 26.7, 1035, {size: 14.5, rotate: true});
  txt("Time (min)", 155, 1168, {size: 12.5, anchor: "middle"});
}

// ================= PANEL H =================
{
  const rows = hLabels.map((lab, k) => ({k: k + 1, lab, m: hMean[k], s: hSem[k], sig: hSig[k]}));
  const eb = rows.filter(d => d.s > 0);
  const xd = [0.484, 3.525], yd = [0.899, 2.004];
  const svg = mount({
    x: {domain: xd}, y: {domain: yd},
    marks: [
      Plot.rectY(rows, {x1: d => d.k - 0.35, x2: d => d.k + 0.35, y1: yd[0], y2: "m", fill: "#000"}),
      Plot.ruleY([1], {stroke: "#8a8a8a", strokeWidth: 1}),
      Plot.ruleX(eb, {x: "k", y1: "m", y2: d => d.m + d.s, stroke: "#000", strokeWidth: 1.5}),
      Plot.link(eb, {x1: d => d.k - 0.25, x2: d => d.k + 0.25, y1: d => d.m + d.s, y2: d => d.m + d.s, stroke: "#000", strokeWidth: 1.5}),
      Plot.text(rows.filter(d => d.sig), {x: "k", y: d => d.m + d.s, text: "sig", dy: -6, fontSize: 24, fontWeight: "bold", lineAnchor: "bottom"}),
      ...yAxis({major: hYTicks, minor: hYMinor, lo: yd[0], hi: 2.0, at: xd[0], fmt: f1, pad: 1}),
      Plot.ruleY([yd[0]], {stroke: "#000", strokeWidth: 1}),
      Plot.axisX({ticks: rows.map(d => d.k), tickSize: 0, tickPadding: 4, tickFormat: k => hLabels[k - 1], label: null})
    ]
  }, {l: 358.3, r: 466.7, t: 928.3, b: 1135.7}, {l: 44, r: 10, t: 10, b: 30}, 12.5);
  svg.querySelectorAll("text").forEach(t => {
    const m = t.textContent.match(/^(\d)(st|nd|rd)$/);
    if (!m) return;
    t.textContent = m[1];
    const s = document.createElementNS("http://www.w3.org/2000/svg", "tspan");
    s.setAttribute("dy", "-0.45em"); s.setAttribute("font-size", "0.72em"); s.textContent = m[2];
    t.appendChild(s);
  });
  txt("H", 316, 891, {size: 18, anchor: "middle"});
  txt("Ratio " + CYTO + "/" + MITO, 321.7, 1013, {size: 15.5, rotate: true});
}

// ================= PANEL J =================
{
  const xd = [2.379, 3.245], yd = [-3.3, 80.4];
  mount({
    x: {domain: xd}, y: {domain: yd},
    marks: [
      Plot.areaY(jCyto, {x: X, y1: yd[0], y2: Y, fill: LAVENDER}),
      ...yAxis({major: jYTicks, minor: jYMinor, lo: 0, hi: yd[1], at: xd[0], pad: 1}),
      Plot.axisX({ticks: jXTicks, tickSize: 0, tickPadding: 4, tickFormat: f1, label: null}),
      ...series(jCyto, {line: GREEN_LINE, fill: GREEN_FILL, r: 3.8}),
      ...series(jMito, {line: ORANGE_LINE, fill: ORANGE_FILL, r: 3.8})
    ]
  }, {l: 576.7, r: 779, t: 928.3, b: 1140.7}, {l: 47, r: 10, t: 10, b: 25}, 13);
  txt("J", 544, 888, {size: 18, anchor: "middle"});
  swatch(586, 893, {dot: GREEN_FILL, r: 3.8});
  txt(CYTO, 595.5, 893, {size: 12.5});
  swatch(586, 911.5, {dot: ORANGE_FILL, r: 3.8});
  txt(MITO, 595.5, 911.5, {size: 12.5});
  txt(CA + " (%)", 551, 1030, {size: 14, rotate: true});
  txt("Time (min)", 684, 1169, {size: 12.5, anchor: "middle"});
}
</script>
</body>
</html>
